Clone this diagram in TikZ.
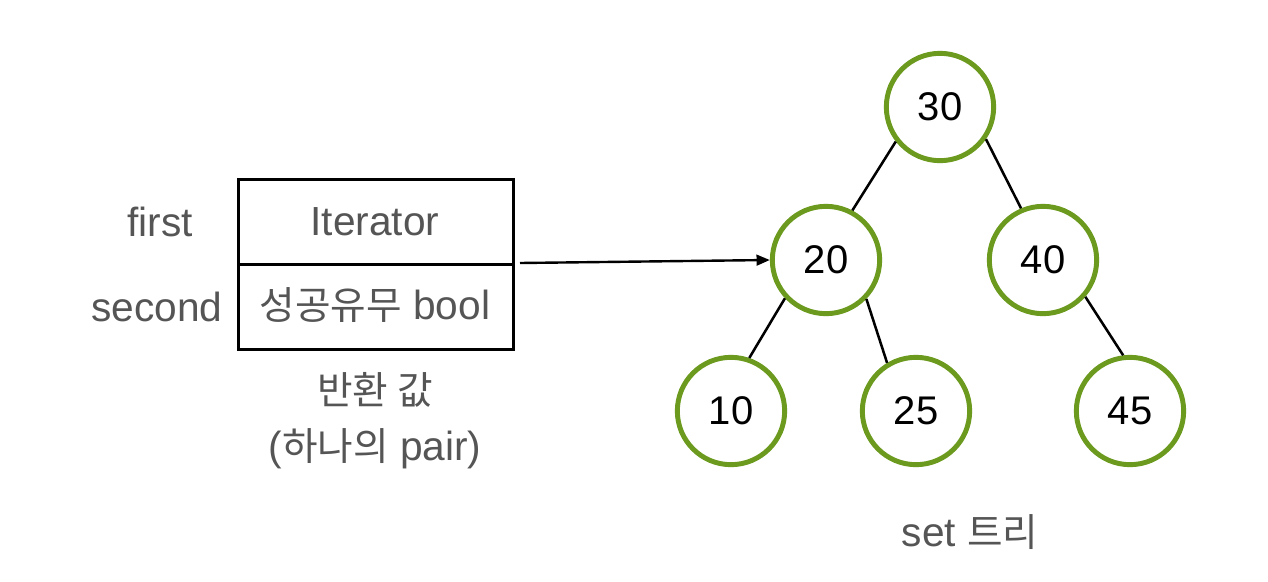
\documentclass[tikz,border=0pt]{standalone}
\usepackage{fontspec}
\setmainfont{Liberation Sans}
\newfontfamily\kr[Scale=0.95]{Noto Sans CJK KR}
\usetikzlibrary{arrows.meta}
\definecolor{tgreen}{HTML}{6B9A1F}
\definecolor{tgray}{HTML}{555555}
\tikzset{
  tnode/.style={circle, draw=tgreen, line width=3.7pt, minimum size=80.5pt, inner sep=0pt, font=\fontsize{30}{34}\selectfont, text=black},
  edge/.style={line width=1.9pt, black},
  lbl/.style={text=tgray, font=\fontsize{30.5}{36}\selectfont, inner sep=0pt},
}
\begin{document}
\begin{tikzpicture}[x=0.75pt,y=-0.75pt]
\useasboundingbox (0,0) rectangle (1268,582);
% box
\node[draw, line width=2.4pt, minimum width=206pt, minimum height=63.75pt, inner sep=0pt, anchor=north west] (top) at (237,178) {};
\node[draw, line width=2.4pt, minimum width=206pt, minimum height=63.75pt, inner sep=0pt, anchor=north west] (bot) at (237,263) {};
\node[lbl] (it) at (375,222) {Iterator};
\node[lbl] (sb) at (375,305) {{\kr 성공유무} bool};
\node[lbl] (fi) at (160,222) {first};
\node[lbl] (se) at (157,307) {second};
\node[lbl] (rv) at (375,390) {\kr 반환 값};
\node[lbl] (pr) at (375,449) {({\kr 하나의} pair)};
\node[lbl] (st) at (970,532) {set {\kr 트리}};
% tree
\node[tnode] (n30) at (940,107) {30};
\node[tnode] (n20) at (826,260) {20};
\node[tnode] (n40) at (1043,260) {40};
\node[tnode] (n10) at (731,411) {10};
\node[tnode] (n25) at (916,411) {25};
\node[tnode] (n45) at (1130,411) {45};
\draw[edge] (n30.218) -- (n20.62);
\draw[edge] (n30.325) -- (n40.113);
\draw[edge] (n20.223) -- (n10.71);
\draw[edge] (n20.316) -- (n25.121);
\draw[edge] (n40.319) -- (n45.97);
\coordinate (as) at (520,263);
\draw[line width=1.8pt, -{Triangle[length=10pt,width=8pt]}] (as) -- (n20.west);
\end{tikzpicture}
\end{document}
